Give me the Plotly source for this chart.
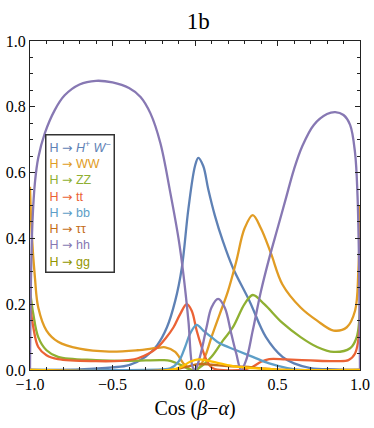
import plotly.graph_objects as go

# H -> H+ W-
hw_x = [-1.0, -0.7, -0.5, -0.4, -0.3, -0.23, -0.17, -0.12, -0.08, -0.04, 0.0, 0.02, 0.05, 0.08, 0.12,
        0.17, 0.23, 0.33, 0.43, 0.53, 0.6, 0.7, 0.85, 1.0]
hw_y = [0.0, 0.002, 0.008, 0.015, 0.04, 0.075, 0.13, 0.21, 0.31, 0.49, 0.62, 0.645, 0.62, 0.55, 0.47,
        0.39, 0.31, 0.21, 0.1, 0.04, 0.02, 0.006, 0.002, 0.0]

# H -> WW
ww_x = [-1.0, -0.99, -0.97, -0.95, -0.9, -0.83, -0.7, -0.52, -0.35, -0.23, -0.18, -0.12, -0.07, -0.02,
        0.02, 0.06, 0.1, 0.15, 0.2, 0.25, 0.3, 0.35, 0.4, 0.46, 0.53, 0.64, 0.74, 0.84, 0.92, 0.97, 0.99, 1.0]
ww_y = [0.557, 0.42, 0.28, 0.19, 0.12, 0.086, 0.065, 0.056, 0.06, 0.067, 0.069, 0.055, 0.02, 0.0,
        0.005, 0.04, 0.1, 0.17, 0.24, 0.33, 0.43, 0.471, 0.43, 0.355, 0.26, 0.19, 0.15, 0.12, 0.13, 0.18, 0.3, 0.5]

# H -> ZZ
zz_x = [-1.0, -0.98, -0.95, -0.9, -0.83, -0.6, -0.4, -0.2, -0.15, -0.08, -0.02, 0.02, 0.1, 0.17, 0.23,
        0.3, 0.35, 0.42, 0.53, 0.64, 0.74, 0.84, 0.94, 0.98, 1.0]
zz_y = [0.243, 0.17, 0.1, 0.06, 0.04, 0.03, 0.028, 0.03, 0.028, 0.014, 0.0, 0.005, 0.04, 0.09, 0.13,
        0.2, 0.228, 0.2, 0.143, 0.1, 0.07, 0.055, 0.066, 0.1, 0.2]

# H -> tt
tt_x = [-1.0, -0.98, -0.95, -0.9, -0.83, -0.6, -0.45, -0.35, -0.28, -0.23, -0.18, -0.13, -0.09, -0.05,
        -0.02, 0.01, 0.04, 0.07, 0.1, 0.15, 0.3, 0.35, 0.4, 0.45, 0.55, 0.7, 0.85, 0.93, 0.97, 1.0]
tt_y = [0.2, 0.13, 0.07, 0.045, 0.033, 0.027, 0.028, 0.035, 0.05, 0.067, 0.095, 0.13, 0.17, 0.2,
        0.18, 0.12, 0.07, 0.03, 0.008, 0.0, 0.002, 0.01, 0.025, 0.033, 0.032, 0.029, 0.027, 0.03, 0.05, 0.14]

# H -> bb
bb_x = [-1.0, -0.2, -0.15, -0.1, -0.06, -0.03, 0.01, 0.05, 0.1, 0.15, 0.25, 0.35, 0.45, 0.56, 0.65, 1.0]
bb_y = [0.0, 0.002, 0.005, 0.025, 0.07, 0.11, 0.137, 0.12, 0.1, 0.081, 0.06, 0.04, 0.02, 0.006, 0.0, 0.0]

# H -> tau tau
tau_x = [-1.0, -0.15, -0.05, 0.02, 0.1, 0.2, 0.3, 0.4, 0.5, 1.0]
tau_y = [0.0, 0.0, 0.01, 0.018, 0.016, 0.012, 0.01, 0.005, 0.001, 0.0]

# H -> hh
hh_x = [-1.0, -0.995, -0.985, -0.97, -0.95, -0.91, -0.85, -0.79, -0.7, -0.6, -0.5, -0.4, -0.33, -0.27,
        -0.21, -0.15, -0.1, -0.07, -0.04, -0.015, 0.0, 0.03, 0.07, 0.1, 0.14, 0.18, 0.22, 0.25, 0.28,
        0.31, 0.35, 0.4, 0.45, 0.5, 0.55, 0.6, 0.65, 0.72, 0.8, 0.85, 0.9, 0.94, 0.97, 0.985, 0.995, 1.0]
hh_y = [0.0, 0.25, 0.45, 0.57, 0.645, 0.72, 0.79, 0.835, 0.868, 0.879, 0.874, 0.857, 0.83, 0.78,
        0.69, 0.54, 0.4, 0.29, 0.15, 0.01, 0.0, 0.04, 0.13, 0.19, 0.216, 0.19, 0.11, 0.05, 0.0,
        0.03, 0.12, 0.24, 0.34, 0.43, 0.52, 0.61, 0.68, 0.745, 0.778, 0.784, 0.775, 0.745, 0.66, 0.53, 0.3, 0.0]

# H -> gg
gg_x = [-1.0, -0.15, -0.08, -0.03, 0.02, 0.08, 0.15, 0.25, 0.35, 0.45, 0.55, 1.0]
gg_y = [0.0, 0.0, 0.01, 0.025, 0.032, 0.028, 0.02, 0.01, 0.006, 0.003, 0.0, 0.0]

arrow = '<span style="font-family:DejaVu Sans">→</span>'
labels = ['H {} <i>H</i><sup>+</sup> <i>W</i><sup>−</sup>'.format(arrow)] + \
         ['H {} {}'.format(arrow, s) for s in ['WW', 'ZZ', 'tt', 'bb', 'ττ', 'hh', 'gg']]
colors = ['#5E81B5', '#E19C24', '#8FB032', '#EB6235', '#5D9EC7', '#C56E1A', '#8778B3', '#929600']
line_colors = colors[:7] + ['#FFBF00']

series = [(hw_x, hw_y), (ww_x, ww_y), (zz_x, zz_y), (tt_x, tt_y),
          (bb_x, bb_y), (tau_x, tau_y), (hh_x, hh_y), (gg_x, gg_y)]

fig = go.Figure()
for (xs, ys), c in zip(series, line_colors):
    fig.add_trace(go.Scatter(x=xs, y=ys, mode='lines', line=dict(color=c, width=2.3, shape='spline', smoothing=1.0),
                             showlegend=False, hoverinfo='skip'))

legend_text = '<br>'.join('<span style="color:{}">{}</span>'.format(c, l) for c, l in zip(colors, labels))

ax_common = dict(showline=True, linecolor='#222', linewidth=1, mirror='allticks', ticks='inside',
                 tickcolor='#222', ticklen=5, showgrid=False, zeroline=False, automargin=False,
                 tickfont=dict(family='Liberation Serif', size=16, color='black'))

fig.update_layout(
    width=374, height=428,
    margin=dict(l=30, r=14, t=41, b=58),
    plot_bgcolor='white', paper_bgcolor='white',
    title=dict(text='1b', x=0.53, xanchor='center', y=0.95, yanchor='middle',
               font=dict(family='Liberation Serif', size=23, color='black')),
    xaxis=dict(range=[-1, 1], tickvals=[-1, -0.5, 0, 0.5, 1],
               ticktext=['−1.0', '−0.5', '0.0', '0.5', '1.0'],
               minor=dict(dtick=0.1, ticks='inside', ticklen=3, tickcolor='#222'),
               title=dict(text='Cos (<i>β</i>−<i>α</i>)', standoff=8,
                          font=dict(family='Liberation Serif', size=20, color='black')),
               **ax_common),
    yaxis=dict(range=[0, 1], tickvals=[0, 0.2, 0.4, 0.6, 0.8, 1.0],
               ticktext=['0.0', '0.2', '0.4', '0.6', '0.8', '1.0'],
               minor=dict(dtick=0.05, ticks='inside', ticklen=3, tickcolor='#222'),
               **ax_common),
    annotations=[dict(text=legend_text, xref='x', yref='y', x=-0.91, y=0.716, xanchor='left', yanchor='top',
                      showarrow=False, align='left', bgcolor='white', bordercolor='#333', borderwidth=1.5,
                      borderpad=3, font=dict(family='Liberation Sans', size=12.5))],
)

fig.write_html("out.html", config={'displayModeBar': False},
               post_script="document.body.style.margin='0';")
